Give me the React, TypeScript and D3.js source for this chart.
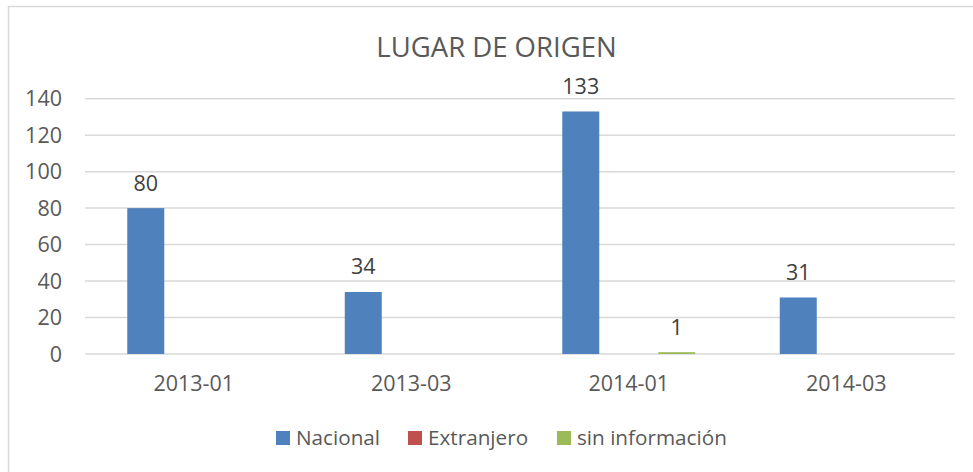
import React from "react";
import * as d3 from "d3";

const categories = ["2013-01", "2013-03", "2014-01", "2014-03"];
const seriesNames = ["Nacional", "Extranjero", "sin información"];
const nacional = [80, 34, 133, 31];
const extranjero = [0, 0, 0, 0];
const sinInformacion = [0, 0, 1, 0];
const yTicks = [0, 20, 40, 60, 80, 100, 120, 140];
const colors = ["#4F81BD", "#C0504D", "#9BBB59"];

const W = 973;
const H = 472;
const FONT = "'Open Sans', sans-serif";
const TEXT = "#595959";

export default function App() {
  const series = [nacional, extranjero, sinInformacion];
  const x = d3.scaleBand<string>().domain(categories).range([85, 955]).paddingInner(0).paddingOuter(0);
  const bw = x.bandwidth();
  const xs = d3
    .scaleBand<string>()
    .domain(seriesNames)
    .range([bw * 0.1943, bw * 0.8057])
    .paddingInner(0.229)
    .paddingOuter(0);
  const y = d3.scaleLinear().domain([0, 140]).range([354, 98.7]);

  const legendX = [276, 408, 557];

  return (
    <svg
      width={W}
      height={H}
      style={{ position: "absolute", left: 0, top: 0, background: "#fff" }}
      fontFamily={FONT}
    >
      <rect x={8.5} y={6.5} width={W + 10} height={H + 10} fill="#fff" stroke="#D9D9D9" strokeWidth={1.5} />
      <text x={496.5} y={57} textAnchor="middle" fontSize={27.5} fill={TEXT}>
        LUGAR DE ORIGEN
      </text>
      {yTicks.map((t) => (
        <g key={t}>
          <line x1={85} x2={955} y1={y(t)} y2={y(t)} stroke="#D9D9D9" strokeWidth={1.5} />
          <text x={62} y={y(t)} dy="0.36em" textAnchor="end" fontSize={21.5} fill={TEXT}>
            {t}
          </text>
        </g>
      ))}
      {categories.map((c, ci) => (
        <g key={c}>
          {series.map((s, si) => {
            const v = s[ci];
            const bx = (x(c) as number) + (xs(seriesNames[si]) as number);
            return (
              <g key={si}>
                <rect
                  x={bx}
                  y={y(v)}
                  width={xs.bandwidth()}
                  height={Math.max(0, y(0) - y(v))}
                  fill={colors[si]}
                />
                {v > 0 && (
                  <text
                    x={bx + xs.bandwidth() / 2}
                    y={y(v) - 17.5}
                    textAnchor="middle"
                    fontSize={21.5}
                    fill="#404040"
                  >
                    {v}
                  </text>
                )}
              </g>
            );
          })}
          <text x={(x(c) as number) + bw / 2} y={390.5} textAnchor="middle" fontSize={21.5} fill={TEXT}>
            {c}
          </text>
        </g>
      ))}
      {seriesNames.map((n, i) => (
        <g key={n}>
          <rect x={legendX[i]} y={431} width={14} height={14} fill={colors[i]} />
          <text x={legendX[i] + 20} y={444.5} fontSize={20.7} fill={TEXT}>
            {n}
          </text>
        </g>
      ))}
    </svg>
  );
}
